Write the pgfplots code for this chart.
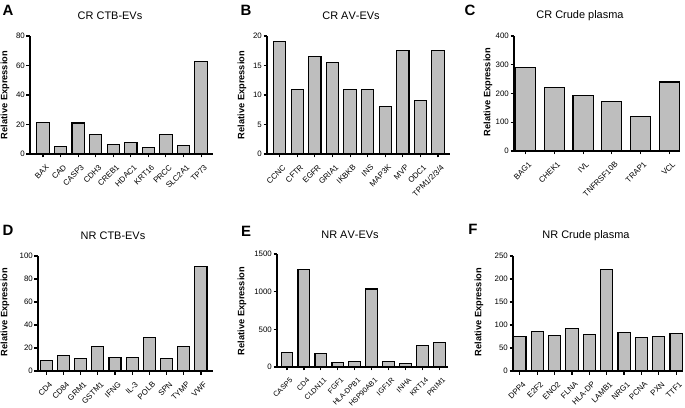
\documentclass[border=0pt]{standalone}
\usepackage{pgfplots}
\pgfplotsset{compat=1.18}
\usepackage{fontspec}
\setmainfont[Kerning=Off]{Liberation Sans}
\definecolor{barfill}{RGB}{190,190,190}
\newcommand{\tickfont}{\fontsize{7.9}{8.5}\selectfont}
\newcommand{\titlefont}{\fontsize{11}{12}\selectfont}
\newcommand{\ylabfont}{\fontsize{9.3}{10}\selectfont\bfseries}
\newcommand{\letterfont}{\fontsize{15}{16}\selectfont\bfseries}
\pgfplotsset{
  panel/.style={
    scale only axis, anchor=south west, ybar, bar width=0.7,
    axis x line*=bottom, axis y line*=left,
    axis line style={line width=1.4bp},
    tick align=outside, major tick length=3.5bp,
    every tick/.style={black, line width=1.1bp},
    xtick={0,...,9},
    x tick label style={xshift=2.5bp, yshift=-6.5bp, rotate=45, anchor=north east, font=\tickfont, inner sep=0bp},
    y tick label style={font=\tickfont, inner sep=1.5bp},
    ymin=0, enlargelimits=false, clip=false,
    /pgf/number format/assume math mode=true,
    /pgf/number format/1000 sep={},
  },
  barstyle/.style={fill=barfill, draw=black, line width=1.1bp},
}
\begin{document}
\begin{tikzpicture}[x=1bp,y=1bp]
\path[use as bounding box] (0bp,0bp) rectangle (685bp,408bp);
% A
\begin{axis}[panel, at={(30bp,254bp)}, width=183bp, height=118bp,
  xmin=-0.74, xmax=9.68, ymax=80, ytick={0,20,40,60,80},
  xticklabels={BAX,CAD,CASP3,CDH3,CREB1,HDAC1,KRT16,PRCC,SLC2A1,TP73}]
\addplot[barstyle] coordinates {(0,21.5)(1,5)(2,21)(3,13)(4,6.5)(5,7.5)(6,4.5)(7,13)(8,6)(9,62.5)};
\end{axis}
% B
\begin{axis}[panel, at={(267bp,254bp)}, width=183bp, height=118bp,
  xmin=-0.72, xmax=9.68, ymax=20, ytick={0,5,10,15,20},
  xticklabels={CCNC,CFTR,EGFR,GRIA1,IKBKB,INS,MAP3K,MVP,ODC1,TPM1/2/3/4}]
\addplot[barstyle] coordinates {(0,19)(1,11)(2,16.5)(3,15.5)(4,11)(5,11)(6,8)(7,17.5)(8,9)(9,17.5)};
\end{axis}
% C
\begin{axis}[panel, at={(514bp,257bp)}, width=164bp, height=115bp,
  xmin=-0.4, xmax=5.3, ymax=400, ytick={0,100,200,300,400},
  xtick={0,...,5},
  xticklabels={BAG1,CHEK1,IVL,TNFRSF10B,TRAP1,VCL}]
\addplot[barstyle] coordinates {(0,290)(1,220)(2,193)(3,172)(4,120)(5,240)};
\end{axis}
% D
\begin{axis}[panel, at={(38bp,37bp)}, width=175bp, height=115bp,
  xmin=-0.48, xmax=9.7, ymax=100, ytick={0,20,40,60,80,100},
  xticklabels={CD4,CD84,GRM1,GSTM1,IFNG,IL-3,POLB,SPN,TYMP,VWF}]
\addplot[barstyle] coordinates {(0,9.5)(1,13.5)(2,11)(3,21)(4,11.5)(5,12)(6,29)(7,10.5)(8,21.5)(9,91)};
\end{axis}
% E
\begin{axis}[panel, at={(277bp,41bp)}, width=171bp, height=113bp,
  xmin=-0.59, xmax=9.49, ymax=1500, ytick={0,500,1000,1500},
  x tick label style={font=\fontsize{7.3}{8}\selectfont},
  xticklabels={CASP5,CD4,CLDN11,FGF1,HLA-DPB1,HSP90AB1,IGF1R,INHA,KRT14,PRIM1}]
\addplot[barstyle] coordinates {(0,190)(1,1300)(2,180)(3,65)(4,70)(5,1035)(6,70)(7,50)(8,285)(9,330)};
\end{axis}
% F
\begin{axis}[panel, at={(513bp,37bp)}, width=170bp, height=115bp,
  xmin=-0.4, xmax=9.4, ymax=250, ytick={0,50,100,150,200,250},
  xticklabels={DPP4,E2F2,ENO2,FLNA,HLA-DP,LAMB1,NRG1,PCNA,PXN,TTF1}]
\addplot[barstyle] coordinates {(0,75)(1,86)(2,78)(3,92)(4,79)(5,220)(6,84)(7,72)(8,75)(9,82)};
\end{axis}
% titles
\node[font=\titlefont] at (110bp,392bp) {CR CTB-EVs};
\node[font=\titlefont] at (351bp,392bp) {CR AV-EVs};
\node[font=\titlefont] at (580bp,392bp) {CR Crude plasma};
\node[font=\titlefont] at (113bp,172bp) {NR CTB-EVs};
\node[font=\titlefont] at (350bp,173bp) {NR AV-EVs};
\node[font=\titlefont] at (586bp,172bp) {NR Crude plasma};
% y labels
\node[font=\ylabfont, rotate=90] at (5bp,313bp) {Relative Expression};
\node[font=\ylabfont, rotate=90] at (242bp,313bp) {Relative Expression};
\node[font=\ylabfont, rotate=90] at (488bp,316bp) {Relative Expression};
\node[font=\ylabfont, rotate=90] at (5bp,96bp) {Relative Expression};
\node[font=\ylabfont, rotate=90] at (242bp,97bp) {Relative Expression};
\node[font=\ylabfont, rotate=90] at (479bp,96bp) {Relative Expression};
% letters
\node[font=\letterfont] at (8bp,398bp) {A};
\node[font=\letterfont] at (246bp,398bp) {B};
\node[font=\letterfont] at (470bp,398bp) {C};
\node[font=\letterfont] at (8bp,178bp) {D};
\node[font=\letterfont] at (246bp,177bp) {E};
\node[font=\letterfont] at (473bp,179bp) {F};
\end{tikzpicture}
\end{document}
